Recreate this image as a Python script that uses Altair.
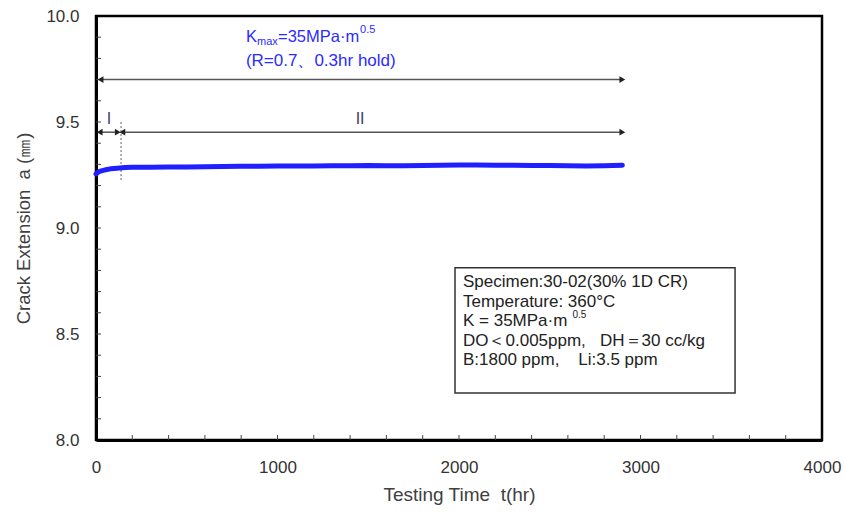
import altair as alt
import pandas as pd

FONT = "Liberation Sans"
NB = "\u00a0"

# crack growth curve
time_hr = [0, 10, 20, 40, 60, 80, 100, 130, 160, 200, 250, 300, 400, 500, 600, 700, 800, 900,
           1000, 1100, 1200, 1300, 1400, 1500, 1600, 1700, 1800, 1900, 2000, 2100, 2200, 2300,
           2400, 2500, 2600, 2700, 2800, 2900]
crack_mm = [9.255, 9.262, 9.267, 9.272, 9.276, 9.279, 9.281, 9.283, 9.285, 9.286, 9.287, 9.287,
            9.288, 9.288, 9.289, 9.290, 9.291, 9.291, 9.292, 9.293, 9.293, 9.294, 9.294, 9.295,
            9.294, 9.294, 9.295, 9.296, 9.297, 9.297, 9.296, 9.296, 9.295, 9.295, 9.294, 9.293,
            9.294, 9.296]

x_ticks = [0, 1000, 2000, 3000, 4000]
y_ticks = [8.0, 8.5, 9.0, 9.5, 10.0]
x_minor = [200 * i for i in range(1, 20)]
y_minor = [round(8.0 + 0.1 * i, 1) for i in range(1, 20)]

# arrows: start, end, level
arrow_x1 = [25, 20, 145]
arrow_x2 = [2900, 120, 2900]
arrow_y = [9.70, 9.452, 9.452]

stage_labels = ["I", "II"]
stage_x = [72, 1455]
stage_y = [9.515, 9.515]

divider_t = [138]
divider_a1 = [9.50]
divider_a2 = [9.22]

info_lines = ["Specimen:30-02(30% 1D CR)", "Temperature: 360°C", "K = 35MPa·m",
              "DO＜0.005ppm," + NB * 3 + "DH＝30 cc/kg", "B:1800 ppm," + NB * 4 + "Li:3.5 ppm"]
info_y = [8.747, 8.652, 8.563, 8.468, 8.378]
info_x = 2022

xs = alt.Scale(domain=[0, 4000], nice=False)
ys = alt.Scale(domain=[8.0, 10.0], nice=False)

W, H = 726, 424

curve = alt.Chart(pd.DataFrame({"t": time_hr, "a": crack_mm})).mark_line(
    color="#1f1fff", strokeWidth=5, strokeCap="round", strokeJoin="round"
).encode(
    x=alt.X("t:Q", scale=xs, axis=alt.Axis(
        values=x_ticks, format="d", title="Testing Time" + NB * 2 + "t(hr)", grid=False, tickSize=0,
        domain=True, domainColor="black", domainWidth=3, labelPadding=19, labelFlush=False,
        labelFont=FONT, labelFontSize=17, labelColor="#333333",
        titleFont=FONT, titleFontSize=19, titleColor="#404040", titleFontWeight="normal",
        titlePadding=10)),
    y=alt.Y("a:Q", scale=ys, axis=alt.Axis(
        values=y_ticks, format=".1f", title="Crack Extension" + NB * 2 + "a" + NB + "(㎜)",
        grid=False, tickSize=0, labelFlush=False,
        domain=True, domainColor="black", domainWidth=3, labelPadding=17,
        labelFont=FONT, labelFontSize=17, labelColor="#333333",
        titleFont=FONT, titleFontSize=18.5, titleColor="#404040", titleFontWeight="normal",
        titlePadding=12)),
)

xminor = alt.Chart(pd.DataFrame({"t": x_minor})).mark_rule(color="#444444", strokeWidth=1).encode(
    x=alt.X("t:Q", scale=xs), y=alt.value(H), y2=alt.value(H - 5))
yminor = alt.Chart(pd.DataFrame({"a": y_minor})).mark_rule(color="#444444", strokeWidth=1).encode(
    y=alt.Y("a:Q", scale=ys), x=alt.value(0), x2=alt.value(5))

arr_df = pd.DataFrame({"x1": arrow_x1, "x2": arrow_x2, "y": arrow_y})
arrows = alt.Chart(arr_df).mark_rule(color="#555555", strokeWidth=1.5).encode(
    x=alt.X("x1:Q", scale=xs), x2="x2:Q", y=alt.Y("y:Q", scale=ys))
heads_l = alt.Chart(arr_df).mark_point(shape="triangle-left", filled=True, color="#222222",
                                       size=45, opacity=1).encode(
    x=alt.X("x1:Q", scale=xs), y=alt.Y("y:Q", scale=ys))
heads_r = alt.Chart(arr_df).mark_point(shape="triangle-right", filled=True, color="#222222",
                                       size=45, opacity=1).encode(
    x=alt.X("x2:Q", scale=xs), y=alt.Y("y:Q", scale=ys))

divider = alt.Chart(pd.DataFrame({"t": divider_t, "a1": divider_a1, "a2": divider_a2})).mark_rule(
    color="#999999", strokeWidth=1.5, strokeDash=[2, 2]).encode(
    x=alt.X("t:Q", scale=xs), y=alt.Y("a1:Q", scale=ys), y2="a2:Q")

stages = alt.Chart(pd.DataFrame({"t": stage_x, "a": stage_y, "lab": stage_labels})).mark_text(
    font=FONT, fontSize=16, color="#404060", align="center", baseline="middle").encode(
    x=alt.X("t:Q", scale=xs), y=alt.Y("a:Q", scale=ys), text="lab:N")

BLUE = "#2b2bff"
kmax_parts = pd.DataFrame({
    "t": [826, 887, 1003, 1455],
    "a": [9.900, 9.876, 9.900, 9.935],
    "txt": ["K", "max", "=35MPa·m", "0.5"],
    "fs": [16.5, 11, 16.5, 11],
})
kmax = alt.Chart(kmax_parts).mark_text(font=FONT, color=BLUE, align="left", baseline="middle").encode(
    x=alt.X("t:Q", scale=xs), y=alt.Y("a:Q", scale=ys), text="txt:N",
    size=alt.Size("fs:Q", scale=None, legend=None))
rline = alt.Chart(pd.DataFrame({"t": [826], "a": [9.790], "txt": ["(R=0.7、0.3hr hold)"]})).mark_text(
    font=FONT, fontSize=17, color=BLUE, align="left", baseline="middle").encode(
    x=alt.X("t:Q", scale=xs), y=alt.Y("a:Q", scale=ys), text="txt:N")

box = alt.Chart(pd.DataFrame({"x1": [1978], "x2": [3521], "y1": [8.222], "y2": [8.813]})).mark_rect(
    fill="white", stroke="#333333", strokeWidth=1.5).encode(
    x=alt.X("x1:Q", scale=xs), x2="x2:Q", y=alt.Y("y1:Q", scale=ys), y2="y2:Q")
info = alt.Chart(pd.DataFrame({"t": [info_x] * 5, "a": info_y, "txt": info_lines})).mark_text(
    font=FONT, fontSize=17, color="#222222", align="left", baseline="middle").encode(
    x=alt.X("t:Q", scale=xs), y=alt.Y("a:Q", scale=ys), text="txt:N")
info_sup = alt.Chart(pd.DataFrame({"t": [2625], "a": [8.590], "txt": ["0.5"]})).mark_text(
    font=FONT, fontSize=10, color="#222222", align="left", baseline="middle").encode(
    x=alt.X("t:Q", scale=xs), y=alt.Y("a:Q", scale=ys), text="txt:N")

chart = alt.layer(
    xminor, yminor, box, info, info_sup, divider, arrows, heads_l, heads_r, stages, kmax, rline, curve
).properties(
    width=W, height=H,
    autosize=alt.AutoSizeParams(type="none"),
    padding={"left": 96, "top": 16, "right": 22, "bottom": 74},
    background="white",
).configure_view(stroke="black", strokeWidth=2.5)

chart.save("out.html", embed_options={"renderer": "svg", "actions": False})
